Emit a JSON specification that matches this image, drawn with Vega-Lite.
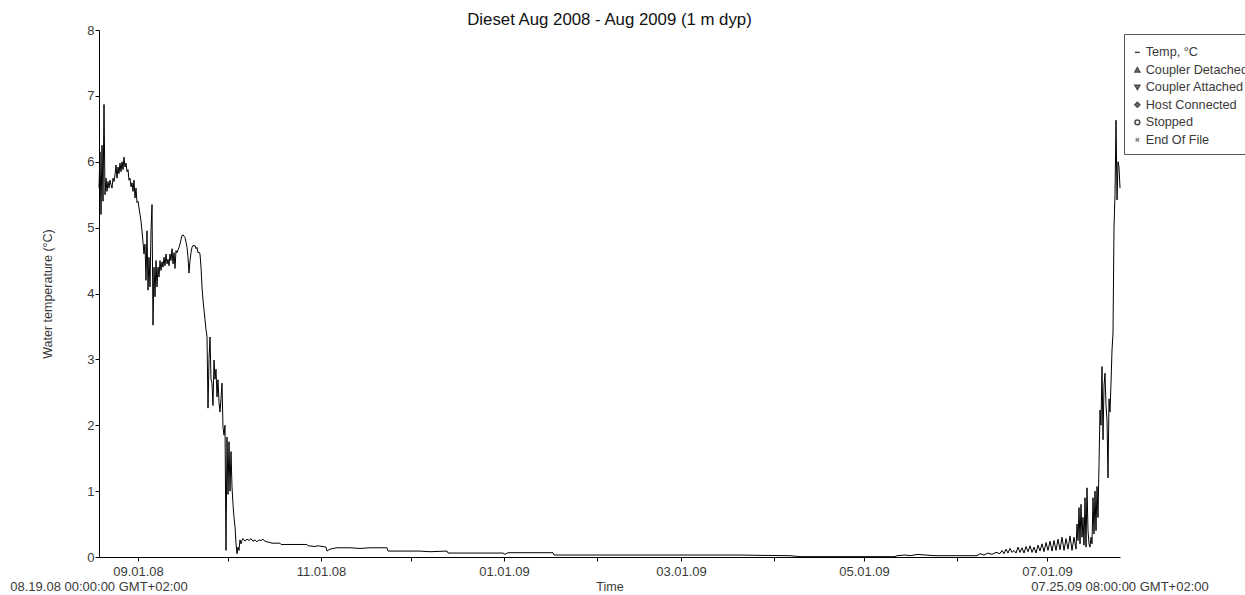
{
  "$schema": "https://vega.github.io/schema/vega-lite/v6.json",
  "autosize": {"type": "none"},
  "width": 1021,
  "height": 527,
  "padding": {"left": 99, "top": 30, "right": 125, "bottom": 38},
  "background": "white",
  "title": {
    "text": "Dieset Aug 2008 - Aug 2009 (1 m dyp)",
    "font": "Liberation Sans",
    "fontSize": 16.8,
    "fontWeight": "normal",
    "color": "#111",
    "anchor": "middle",
    "frame": "group",
    "baseline": "middle",
    "offset": 0,
    "dy": 13
  },
  "config": {
    "font": "Liberation Sans",
    "view": {"stroke": null},
    "axis": {
      "grid": false,
      "domainColor": "#000",
      "tickColor": "#000",
      "tickSize": 4,
      "labelFont": "Liberation Sans",
      "labelFontSize": 13,
      "labelColor": "#3a3a3a",
      "titleFont": "Liberation Sans",
      "titleFontSize": 12.5,
      "titleFontWeight": "normal",
      "titleColor": "#3a3a3a"
    }
  },
  "datasets": {
    "temperature": [
      {"time": "2008-08-19T00:00Z", "temp": 5.6},
      {"time": "2008-08-19T08:00Z", "temp": 6.15},
      {"time": "2008-08-19T16:00Z", "temp": 5.2},
      {"time": "2008-08-20T00:00Z", "temp": 6.25},
      {"time": "2008-08-20T08:00Z", "temp": 5.4},
      {"time": "2008-08-20T16:00Z", "temp": 6.87},
      {"time": "2008-08-21T00:00Z", "temp": 5.5},
      {"time": "2008-08-21T08:00Z", "temp": 5.75},
      {"time": "2008-08-21T16:00Z", "temp": 5.55},
      {"time": "2008-08-22T00:00Z", "temp": 5.7},
      {"time": "2008-08-22T08:00Z", "temp": 5.6},
      {"time": "2008-08-22T16:00Z", "temp": 5.72},
      {"time": "2008-08-23T00:00Z", "temp": 5.65},
      {"time": "2008-08-23T08:00Z", "temp": 5.6},
      {"time": "2008-08-23T16:00Z", "temp": 5.75},
      {"time": "2008-08-24T00:00Z", "temp": 5.7},
      {"time": "2008-08-24T08:00Z", "temp": 5.8},
      {"time": "2008-08-24T16:00Z", "temp": 5.95},
      {"time": "2008-08-25T00:00Z", "temp": 5.75},
      {"time": "2008-08-25T08:00Z", "temp": 5.92},
      {"time": "2008-08-25T16:00Z", "temp": 5.82},
      {"time": "2008-08-26T00:00Z", "temp": 5.98},
      {"time": "2008-08-26T08:00Z", "temp": 5.85},
      {"time": "2008-08-26T16:00Z", "temp": 6.0},
      {"time": "2008-08-27T00:00Z", "temp": 5.88},
      {"time": "2008-08-27T08:00Z", "temp": 6.07},
      {"time": "2008-08-27T16:00Z", "temp": 5.92},
      {"time": "2008-08-28T00:00Z", "temp": 5.98},
      {"time": "2008-08-28T08:00Z", "temp": 5.85},
      {"time": "2008-08-28T16:00Z", "temp": 5.88},
      {"time": "2008-08-29T00:00Z", "temp": 5.72},
      {"time": "2008-08-29T08:00Z", "temp": 5.75},
      {"time": "2008-08-29T16:00Z", "temp": 5.62},
      {"time": "2008-08-30T00:00Z", "temp": 5.68},
      {"time": "2008-08-30T08:00Z", "temp": 5.55},
      {"time": "2008-08-30T16:00Z", "temp": 5.72},
      {"time": "2008-08-31T00:00Z", "temp": 5.45},
      {"time": "2008-08-31T08:00Z", "temp": 5.6},
      {"time": "2008-08-31T16:00Z", "temp": 5.38},
      {"time": "2008-09-01T00:00Z", "temp": 5.4},
      {"time": "2008-09-01T08:00Z", "temp": 5.3},
      {"time": "2008-09-01T16:00Z", "temp": 5.2},
      {"time": "2008-09-02T00:00Z", "temp": 5.1},
      {"time": "2008-09-02T08:00Z", "temp": 4.95},
      {"time": "2008-09-02T16:00Z", "temp": 4.78},
      {"time": "2008-09-03T00:00Z", "temp": 4.6},
      {"time": "2008-09-03T08:00Z", "temp": 4.75},
      {"time": "2008-09-03T16:00Z", "temp": 4.2},
      {"time": "2008-09-04T00:00Z", "temp": 4.95},
      {"time": "2008-09-04T08:00Z", "temp": 4.05},
      {"time": "2008-09-04T16:00Z", "temp": 4.55},
      {"time": "2008-09-05T00:00Z", "temp": 4.1},
      {"time": "2008-09-05T08:00Z", "temp": 4.95},
      {"time": "2008-09-05T16:00Z", "temp": 5.35},
      {"time": "2008-09-06T00:00Z", "temp": 3.52},
      {"time": "2008-09-06T08:00Z", "temp": 4.4},
      {"time": "2008-09-06T16:00Z", "temp": 3.95},
      {"time": "2008-09-07T00:00Z", "temp": 4.5},
      {"time": "2008-09-07T08:00Z", "temp": 4.1},
      {"time": "2008-09-07T16:00Z", "temp": 4.4},
      {"time": "2008-09-08T00:00Z", "temp": 4.25},
      {"time": "2008-09-08T08:00Z", "temp": 4.5},
      {"time": "2008-09-08T16:00Z", "temp": 4.35},
      {"time": "2008-09-09T00:00Z", "temp": 4.48},
      {"time": "2008-09-09T08:00Z", "temp": 4.4},
      {"time": "2008-09-09T16:00Z", "temp": 4.55},
      {"time": "2008-09-10T00:00Z", "temp": 4.42},
      {"time": "2008-09-10T08:00Z", "temp": 4.6},
      {"time": "2008-09-10T16:00Z", "temp": 4.45},
      {"time": "2008-09-11T00:00Z", "temp": 4.52},
      {"time": "2008-09-11T08:00Z", "temp": 4.42},
      {"time": "2008-09-11T16:00Z", "temp": 4.6},
      {"time": "2008-09-12T00:00Z", "temp": 4.5},
      {"time": "2008-09-12T08:00Z", "temp": 4.68},
      {"time": "2008-09-12T16:00Z", "temp": 4.45},
      {"time": "2008-09-13T00:00Z", "temp": 4.62},
      {"time": "2008-09-13T08:00Z", "temp": 4.38},
      {"time": "2008-09-13T16:00Z", "temp": 4.65},
      {"time": "2008-09-14T00:00Z", "temp": 4.62},
      {"time": "2008-09-14T08:00Z", "temp": 4.66},
      {"time": "2008-09-14T16:00Z", "temp": 4.7},
      {"time": "2008-09-15T00:00Z", "temp": 4.75},
      {"time": "2008-09-15T08:00Z", "temp": 4.82},
      {"time": "2008-09-15T16:00Z", "temp": 4.88},
      {"time": "2008-09-16T00:00Z", "temp": 4.89},
      {"time": "2008-09-16T08:00Z", "temp": 4.87},
      {"time": "2008-09-16T16:00Z", "temp": 4.85},
      {"time": "2008-09-17T00:00Z", "temp": 4.78},
      {"time": "2008-09-17T08:00Z", "temp": 4.7},
      {"time": "2008-09-17T16:00Z", "temp": 4.55},
      {"time": "2008-09-18T00:00Z", "temp": 4.31},
      {"time": "2008-09-18T08:00Z", "temp": 4.5},
      {"time": "2008-09-18T16:00Z", "temp": 4.62},
      {"time": "2008-09-19T00:00Z", "temp": 4.7},
      {"time": "2008-09-19T08:00Z", "temp": 4.73},
      {"time": "2008-09-19T16:00Z", "temp": 4.72},
      {"time": "2008-09-20T00:00Z", "temp": 4.73},
      {"time": "2008-09-20T08:00Z", "temp": 4.68},
      {"time": "2008-09-20T16:00Z", "temp": 4.7},
      {"time": "2008-09-21T00:00Z", "temp": 4.62},
      {"time": "2008-09-21T08:00Z", "temp": 4.63},
      {"time": "2008-09-21T16:00Z", "temp": 4.6},
      {"time": "2008-09-22T00:00Z", "temp": 4.4},
      {"time": "2008-09-22T08:00Z", "temp": 4.1},
      {"time": "2008-09-22T16:00Z", "temp": 3.9},
      {"time": "2008-09-23T00:00Z", "temp": 3.75},
      {"time": "2008-09-23T08:00Z", "temp": 3.6},
      {"time": "2008-09-23T16:00Z", "temp": 3.45},
      {"time": "2008-09-24T00:00Z", "temp": 3.35},
      {"time": "2008-09-24T08:00Z", "temp": 2.26},
      {"time": "2008-09-24T16:00Z", "temp": 3.0},
      {"time": "2008-09-25T00:00Z", "temp": 3.34},
      {"time": "2008-09-25T08:00Z", "temp": 2.7},
      {"time": "2008-09-25T16:00Z", "temp": 2.64},
      {"time": "2008-09-26T00:00Z", "temp": 2.3},
      {"time": "2008-09-26T08:00Z", "temp": 2.99},
      {"time": "2008-09-26T16:00Z", "temp": 2.7},
      {"time": "2008-09-27T00:00Z", "temp": 2.85},
      {"time": "2008-09-27T08:00Z", "temp": 2.43},
      {"time": "2008-09-27T16:00Z", "temp": 2.69},
      {"time": "2008-09-28T00:00Z", "temp": 2.35},
      {"time": "2008-09-28T08:00Z", "temp": 2.2},
      {"time": "2008-09-28T16:00Z", "temp": 2.4},
      {"time": "2008-09-29T00:00Z", "temp": 2.64},
      {"time": "2008-09-29T08:00Z", "temp": 1.97},
      {"time": "2008-09-29T16:00Z", "temp": 1.85},
      {"time": "2008-09-30T00:00Z", "temp": 2.0},
      {"time": "2008-09-30T08:00Z", "temp": 0.1},
      {"time": "2008-09-30T16:00Z", "temp": 1.82},
      {"time": "2008-10-01T00:00Z", "temp": 0.95},
      {"time": "2008-10-01T08:00Z", "temp": 1.75},
      {"time": "2008-10-01T16:00Z", "temp": 1.0},
      {"time": "2008-10-02T00:00Z", "temp": 1.6},
      {"time": "2008-10-02T08:00Z", "temp": 1.06},
      {"time": "2008-10-02T16:00Z", "temp": 0.8},
      {"time": "2008-10-03T00:00Z", "temp": 0.6},
      {"time": "2008-10-03T08:00Z", "temp": 0.46},
      {"time": "2008-10-03T16:00Z", "temp": 0.2},
      {"time": "2008-10-04T00:00Z", "temp": 0.05},
      {"time": "2008-10-04T08:00Z", "temp": 0.15},
      {"time": "2008-10-04T16:00Z", "temp": 0.1},
      {"time": "2008-10-05T00:00Z", "temp": 0.26},
      {"time": "2008-10-05T08:00Z", "temp": 0.2},
      {"time": "2008-10-05T16:00Z", "temp": 0.25},
      {"time": "2008-10-06T00:00Z", "temp": 0.28},
      {"time": "2008-10-06T16:00Z", "temp": 0.24},
      {"time": "2008-10-07T08:00Z", "temp": 0.27},
      {"time": "2008-10-08T00:00Z", "temp": 0.25},
      {"time": "2008-10-08T16:00Z", "temp": 0.28},
      {"time": "2008-10-09T08:00Z", "temp": 0.24},
      {"time": "2008-10-10T00:00Z", "temp": 0.26},
      {"time": "2008-10-10T16:00Z", "temp": 0.23},
      {"time": "2008-10-11T08:00Z", "temp": 0.26},
      {"time": "2008-10-12T00:00Z", "temp": 0.25},
      {"time": "2008-10-12T16:00Z", "temp": 0.27},
      {"time": "2008-10-13T08:00Z", "temp": 0.24},
      {"time": "2008-10-14T00:00Z", "temp": 0.23},
      {"time": "2008-10-15T00:00Z", "temp": 0.22},
      {"time": "2008-10-15T16:00Z", "temp": 0.21},
      {"time": "2008-10-18T08:00Z", "temp": 0.21},
      {"time": "2008-10-18T16:00Z", "temp": 0.19},
      {"time": "2008-10-27T08:00Z", "temp": 0.19},
      {"time": "2008-10-27T16:00Z", "temp": 0.17},
      {"time": "2008-10-30T00:00Z", "temp": 0.16},
      {"time": "2008-10-31T00:00Z", "temp": 0.17},
      {"time": "2008-11-01T08:00Z", "temp": 0.16},
      {"time": "2008-11-02T16:00Z", "temp": 0.15},
      {"time": "2008-11-03T00:00Z", "temp": 0.09},
      {"time": "2008-11-04T00:00Z", "temp": 0.12},
      {"time": "2008-11-06T08:00Z", "temp": 0.14},
      {"time": "2008-11-10T16:00Z", "temp": 0.14},
      {"time": "2008-11-14T00:00Z", "temp": 0.13},
      {"time": "2008-11-17T08:00Z", "temp": 0.14},
      {"time": "2008-11-23T00:00Z", "temp": 0.14},
      {"time": "2008-11-23T08:00Z", "temp": 0.09},
      {"time": "2008-12-04T00:00Z", "temp": 0.09},
      {"time": "2008-12-07T08:00Z", "temp": 0.08},
      {"time": "2008-12-13T00:00Z", "temp": 0.09},
      {"time": "2008-12-13T08:00Z", "temp": 0.06},
      {"time": "2008-12-24T00:00Z", "temp": 0.06},
      {"time": "2008-12-31T16:00Z", "temp": 0.06},
      {"time": "2009-01-01T08:00Z", "temp": 0.04},
      {"time": "2009-01-02T08:00Z", "temp": 0.065},
      {"time": "2009-01-09T16:00Z", "temp": 0.065},
      {"time": "2009-01-17T08:00Z", "temp": 0.065},
      {"time": "2009-01-17T16:00Z", "temp": 0.03},
      {"time": "2009-02-02T00:00Z", "temp": 0.03},
      {"time": "2009-02-18T16:00Z", "temp": 0.03},
      {"time": "2009-03-07T08:00Z", "temp": 0.03},
      {"time": "2009-03-20T16:00Z", "temp": 0.03},
      {"time": "2009-03-27T08:00Z", "temp": 0.025},
      {"time": "2009-04-06T08:00Z", "temp": 0.02},
      {"time": "2009-04-09T16:00Z", "temp": 0.005},
      {"time": "2009-05-11T08:00Z", "temp": 0.005},
      {"time": "2009-05-12T00:00Z", "temp": 0.02},
      {"time": "2009-05-14T16:00Z", "temp": 0.03},
      {"time": "2009-05-16T08:00Z", "temp": 0.02},
      {"time": "2009-05-19T00:00Z", "temp": 0.04},
      {"time": "2009-05-21T08:00Z", "temp": 0.03},
      {"time": "2009-05-24T16:00Z", "temp": 0.02},
      {"time": "2009-06-02T00:00Z", "temp": 0.02},
      {"time": "2009-06-07T16:00Z", "temp": 0.02},
      {"time": "2009-06-08T16:00Z", "temp": 0.05},
      {"time": "2009-06-10T00:00Z", "temp": 0.03},
      {"time": "2009-06-11T08:00Z", "temp": 0.06},
      {"time": "2009-06-12T16:00Z", "temp": 0.04},
      {"time": "2009-06-14T00:00Z", "temp": 0.07},
      {"time": "2009-06-15T08:00Z", "temp": 0.05},
      {"time": "2009-06-16T00:00Z", "temp": 0.1},
      {"time": "2009-06-16T16:00Z", "temp": 0.05},
      {"time": "2009-06-17T08:00Z", "temp": 0.12},
      {"time": "2009-06-18T00:00Z", "temp": 0.06},
      {"time": "2009-06-18T16:00Z", "temp": 0.13},
      {"time": "2009-06-19T08:00Z", "temp": 0.07},
      {"time": "2009-06-20T00:00Z", "temp": 0.1},
      {"time": "2009-06-20T16:00Z", "temp": 0.06},
      {"time": "2009-06-21T08:00Z", "temp": 0.15},
      {"time": "2009-06-22T00:00Z", "temp": 0.07},
      {"time": "2009-06-22T16:00Z", "temp": 0.14},
      {"time": "2009-06-23T08:00Z", "temp": 0.06},
      {"time": "2009-06-24T00:00Z", "temp": 0.16},
      {"time": "2009-06-24T16:00Z", "temp": 0.08},
      {"time": "2009-06-25T08:00Z", "temp": 0.17},
      {"time": "2009-06-26T00:00Z", "temp": 0.07},
      {"time": "2009-06-26T16:00Z", "temp": 0.15},
      {"time": "2009-06-27T08:00Z", "temp": 0.06},
      {"time": "2009-06-28T00:00Z", "temp": 0.18},
      {"time": "2009-06-28T16:00Z", "temp": 0.09},
      {"time": "2009-06-29T08:00Z", "temp": 0.2},
      {"time": "2009-06-30T00:00Z", "temp": 0.08},
      {"time": "2009-06-30T16:00Z", "temp": 0.22},
      {"time": "2009-07-01T08:00Z", "temp": 0.1},
      {"time": "2009-07-02T00:00Z", "temp": 0.24},
      {"time": "2009-07-02T16:00Z", "temp": 0.09},
      {"time": "2009-07-03T08:00Z", "temp": 0.25},
      {"time": "2009-07-04T00:00Z", "temp": 0.1},
      {"time": "2009-07-04T16:00Z", "temp": 0.27},
      {"time": "2009-07-05T08:00Z", "temp": 0.11},
      {"time": "2009-07-06T00:00Z", "temp": 0.3},
      {"time": "2009-07-06T16:00Z", "temp": 0.1},
      {"time": "2009-07-07T08:00Z", "temp": 0.28},
      {"time": "2009-07-08T00:00Z", "temp": 0.12},
      {"time": "2009-07-08T16:00Z", "temp": 0.32},
      {"time": "2009-07-09T08:00Z", "temp": 0.1},
      {"time": "2009-07-10T00:00Z", "temp": 0.3},
      {"time": "2009-07-10T16:00Z", "temp": 0.12},
      {"time": "2009-07-11T00:00Z", "temp": 0.5},
      {"time": "2009-07-11T08:00Z", "temp": 0.25},
      {"time": "2009-07-11T16:00Z", "temp": 0.75},
      {"time": "2009-07-12T00:00Z", "temp": 0.2},
      {"time": "2009-07-12T08:00Z", "temp": 0.8},
      {"time": "2009-07-12T16:00Z", "temp": 0.3},
      {"time": "2009-07-13T00:00Z", "temp": 0.6},
      {"time": "2009-07-13T08:00Z", "temp": 0.18},
      {"time": "2009-07-13T16:00Z", "temp": 0.9},
      {"time": "2009-07-14T00:00Z", "temp": 0.15},
      {"time": "2009-07-14T08:00Z", "temp": 1.05},
      {"time": "2009-07-14T16:00Z", "temp": 0.4},
      {"time": "2009-07-15T00:00Z", "temp": 0.2},
      {"time": "2009-07-15T08:00Z", "temp": 0.15},
      {"time": "2009-07-15T16:00Z", "temp": 0.3},
      {"time": "2009-07-16T00:00Z", "temp": 0.2},
      {"time": "2009-07-16T08:00Z", "temp": 0.9},
      {"time": "2009-07-16T16:00Z", "temp": 0.35},
      {"time": "2009-07-17T00:00Z", "temp": 1.0},
      {"time": "2009-07-17T08:00Z", "temp": 0.4},
      {"time": "2009-07-17T16:00Z", "temp": 1.07},
      {"time": "2009-07-18T00:00Z", "temp": 0.6},
      {"time": "2009-07-18T08:00Z", "temp": 1.4},
      {"time": "2009-07-18T16:00Z", "temp": 2.23},
      {"time": "2009-07-19T00:00Z", "temp": 2.0},
      {"time": "2009-07-19T08:00Z", "temp": 2.89},
      {"time": "2009-07-19T16:00Z", "temp": 1.78},
      {"time": "2009-07-20T00:00Z", "temp": 2.6},
      {"time": "2009-07-20T08:00Z", "temp": 2.79},
      {"time": "2009-07-20T16:00Z", "temp": 2.3},
      {"time": "2009-07-21T00:00Z", "temp": 2.08},
      {"time": "2009-07-21T08:00Z", "temp": 1.2},
      {"time": "2009-07-21T16:00Z", "temp": 2.4},
      {"time": "2009-07-22T00:00Z", "temp": 2.2},
      {"time": "2009-07-22T08:00Z", "temp": 2.64},
      {"time": "2009-07-22T16:00Z", "temp": 3.14},
      {"time": "2009-07-23T00:00Z", "temp": 3.4},
      {"time": "2009-07-23T08:00Z", "temp": 5.01},
      {"time": "2009-07-23T16:00Z", "temp": 5.5},
      {"time": "2009-07-24T00:00Z", "temp": 6.63},
      {"time": "2009-07-24T08:00Z", "temp": 5.42},
      {"time": "2009-07-24T16:00Z", "temp": 6.0},
      {"time": "2009-07-25T00:00Z", "temp": 5.92},
      {"time": "2009-07-25T08:00Z", "temp": 5.6}
    ],
    "series": [
      {"series": "Temp, °C"},
      {"series": "Coupler Detached"},
      {"series": "Coupler Attached"},
      {"series": "Host Connected"},
      {"series": "Stopped"},
      {"series": "End Of File"}
    ],
    "stamps": [
      {"when": "2008-08-19T00:00Z", "stamp": "08.19.08 00:00:00 GMT+02:00"},
      {"when": "2009-07-25T08:00Z", "stamp": "07.25.09 08:00:00 GMT+02:00"}
    ]
  },
  "layer": [
    {
      "data": {"name": "temperature"},
      "mark": {"type": "line", "color": "#000", "strokeWidth": 1, "interpolate": "linear"},
      "encoding": {
        "x": {
          "field": "time",
          "type": "temporal",
          "title": "Time",
          "scale": {"type": "utc", "domain": ["2008-08-19T00:00Z", "2009-07-25T08:00Z"], "nice": false},
          "axis": {
            "tickCount": {"interval": "month", "step": 1},
            "labelExpr": "utcmonth(datum.value) % 2 == 0 ? utcFormat(datum.value, '%m.%d.%y') : ''",
            "labelOverlap": false,
            "labelFlush": false,
            "labelPadding": 4,
            "titlePadding": 2
          }
        },
        "y": {
          "field": "temp",
          "type": "quantitative",
          "title": "Water temperature (°C)",
          "scale": {"domain": [0, 8], "nice": false},
          "axis": {"values": [0, 1, 2, 3, 4, 5, 6, 7, 8], "format": "d", "labelPadding": 1, "titlePadding": 32}
        }
      }
    },
    {
      "data": {"name": "series"},
      "mark": {"type": "point", "filled": true, "size": 24},
      "encoding": {
        "x": {"field": "time", "type": "temporal"},
        "y": {"field": "temp", "type": "quantitative"},
        "shape": {
          "field": "series",
          "type": "nominal",
          "scale": {
            "domain": ["Temp, °C", "Coupler Detached", "Coupler Attached", "Host Connected", "Stopped", "End Of File"],
            "range": ["stroke", "triangle-up", "triangle-down", "diamond", "circle", "M-0.7,-0.7L0.7,0.7M-0.7,0.7L0.7,-0.7"]
          },
          "legend": {
            "title": " ",
            "titleFontSize": 4,
            "titlePadding": 1,
            "orient": "none",
            "legendX": 1025,
            "legendY": 4,
            "padding": 7,
            "strokeColor": "#555",
            "fillColor": "white",
            "labelFont": "Liberation Sans",
            "labelFontSize": 12.7,
            "labelColor": "#3a3a3a",
            "labelOffset": 2,
            "rowPadding": 3.5,
            "symbolStrokeWidth": 1.5,
            "symbolSize": 24,
            "labelLimit": 400
          }
        },
        "fill": {
          "field": "series",
          "type": "nominal",
          "scale": {
            "domain": ["Temp, °C", "Coupler Detached", "Coupler Attached", "Host Connected", "Stopped", "End Of File"],
            "range": ["#000", "#000", "#000", "#000", "#fff", "#000"]
          }
        },
        "stroke": {
          "field": "series",
          "type": "nominal",
          "scale": {
            "domain": ["Temp, °C", "Coupler Detached", "Coupler Attached", "Host Connected", "Stopped", "End Of File"],
            "range": ["#000", "#000", "#000", "#000", "#000", "#555"]
          }
        }
      }
    },
    {
      "data": {"name": "stamps"},
      "mark": {"type": "text", "font": "Liberation Sans", "fontSize": 13, "color": "#3a3a3a", "align": "center", "baseline": "middle", "dy": 30},
      "encoding": {
        "x": {"field": "when", "type": "temporal"},
        "y": {"datum": 0},
        "text": {"field": "stamp", "type": "nominal"}
      }
    }
  ]
}
